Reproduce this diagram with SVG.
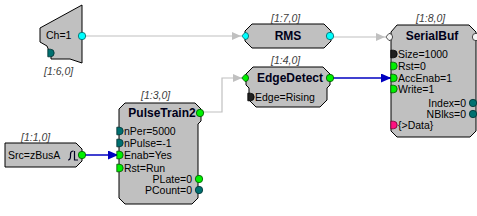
<svg xmlns="http://www.w3.org/2000/svg" xmlns:xlink="http://www.w3.org/1999/xlink" width="477" height="216" viewBox="0 0 477 216">
<style>
.blk{fill:#c0c0c0;stroke:#000;stroke-width:1}
.title{font-family:"Liberation Sans",Arial,sans-serif;font-weight:bold;font-size:12px;fill:#00001a;text-anchor:middle}
.prm{font-family:"Liberation Sans",Arial,sans-serif;font-size:10.5px;fill:#000}
.prmR{font-family:"Liberation Sans",Arial,sans-serif;font-size:10.5px;fill:#000;text-anchor:end}
.lbl{font-family:"Liberation Sans",Arial,sans-serif;font-style:italic;font-size:10.5px;fill:#404040}
.green{fill:#00f000;stroke:#005000;stroke-width:0.8}
.teal{fill:#007070;stroke:#003030;stroke-width:0.8}
.cyan{fill:#00ffff;stroke:#006060;stroke-width:0.8}
.black{fill:#202020;stroke:#000;stroke-width:0.8}
.mag{fill:#ff1080;stroke:#700030;stroke-width:0.8}
.white{fill:#f4f4f4;stroke:#202020;stroke-width:0.8}
.gray{fill:none;stroke:#c0c0c0;stroke-width:1.2}
.blue{fill:none;stroke:#0000c0;stroke-width:1.3}
</style>
<defs>
<path id="pinIn" d="M-3.2,-3.8 h2.6 a3.8,3.8 0 0 1 0,7.6 h-2.6 z"/>
<circle id="pinOut" r="3.7"/>
<path id="pinDia" d="M-4.2,0 L-1,-3.6 A3.6,3.6 0 1 1 -1,3.6 Z"/>
<marker id="arrG" markerUnits="userSpaceOnUse" markerWidth="10" markerHeight="8" refX="9" refY="4" orient="auto">
<path d="M0,0 L9,4 L0,8 z" fill="#c0c0c0"/>
</marker>
<marker id="arrB" markerUnits="userSpaceOnUse" markerWidth="11" markerHeight="9" refX="10" refY="4.5" orient="auto">
<path d="M0,0 L8,3.5 L10,3.5 L10,5.5 L8,5.5 L0,9 z" fill="#0000c0"/>
</marker>
</defs>

<g id="connectors">
<path class="gray" d="M85,36 H241" marker-end="url(#arrG)"/>
<path class="gray" d="M333,37 H385" marker-end="url(#arrG)"/>
<path class="gray" d="M203,112 H222 V78 H242" marker-end="url(#arrG)"/>
<path class="blue" d="M333,78 H391" marker-end="url(#arrB)"/>
<path class="blue" d="M85,155 H118" marker-end="url(#arrB)"/>
</g>

<g id="adc">
<path class="blk" d="M82,5 L82,63 L70,59 L51,59 L51,56 L47,46 L40,42 L40,28 Z"/>
<text class="prm" x="46" y="39">Ch=1</text>
<use xlink:href="#pinIn" x="51" y="53" class="teal"/>
<use xlink:href="#pinOut" x="82" y="36" class="cyan"/>
<text class="lbl" x="44" y="75">[1:6,0]</text>
</g>

<g id="rms">
<polygon class="blk" points="252,24 324,24 331,31 331,41 324,48 252,48 245,41 245,31"/>
<text class="title" x="288" y="40">RMS</text>
<use xlink:href="#pinDia" x="246" y="36" class="cyan"/>
<use xlink:href="#pinOut" x="330" y="36" class="cyan"/>
<text class="lbl" x="271" y="22">[1:7,0]</text>
</g>

<g id="edgedetect">
<polygon class="blk" points="253,67 323,67 330,74 330,85 327,88 327,100 320,107 256,107 249,100 249,88 246,85 246,74"/>
<text class="title" x="290" y="82">EdgeDetect</text>
<use xlink:href="#pinDia" x="246" y="78" class="green"/>
<use xlink:href="#pinOut" x="330" y="78" class="green"/>
<use xlink:href="#pinIn" x="251" y="97" class="black"/>
<text class="prm" x="255" y="101">Edge=Rising</text>
<text class="lbl" x="271" y="64">[1:4,0]</text>
</g>

<g id="serialbuf">
<polygon class="blk" points="397,25 469,25 476,32 476,131 470,137 397,137 391,131 391,32"/>
<text class="title" x="432" y="40">SerialBuf</text>
<use xlink:href="#pinDia" x="390" y="37" class="white"/>
<use xlink:href="#pinOut" x="476" y="37" class="white"/>
<use xlink:href="#pinIn" x="394" y="54" class="black"/>
<use xlink:href="#pinIn" x="394" y="66" class="green"/>
<use xlink:href="#pinIn" x="394" y="78" class="green"/>
<use xlink:href="#pinIn" x="394" y="89" class="green"/>
<use xlink:href="#pinIn" x="394" y="125" class="mag"/>
<use xlink:href="#pinOut" x="473" y="103" class="teal"/>
<use xlink:href="#pinOut" x="473" y="114" class="teal"/>
<text class="prm" x="398" y="58">Size=1000</text>
<text class="prm" x="398" y="70">Rst=0</text>
<text class="prm" x="398" y="82">AccEnab=1</text>
<text class="prm" x="398" y="93">Write=1</text>
<text class="prmR" x="466" y="107">Index=0</text>
<text class="prmR" x="466" y="118">NBlks=0</text>
<text class="prm" x="398" y="129">{&gt;Data}</text>
<text class="lbl" x="416" y="22">[1:8,0]</text>
</g>

<g id="pulsetrain2">
<polygon class="blk" points="125,103 195,103 201,109 201,121 198,124 198,198 192,204 125,204 119,198 119,109"/>
<text class="title" x="162" y="117">PulseTrain2</text>
<use xlink:href="#pinOut" x="200" y="113" class="green"/>
<use xlink:href="#pinIn" x="120" y="131" class="teal"/>
<use xlink:href="#pinIn" x="120" y="143" class="teal"/>
<use xlink:href="#pinIn" x="120" y="155" class="green"/>
<use xlink:href="#pinIn" x="120" y="168" class="green"/>
<use xlink:href="#pinOut" x="199" y="179" class="green"/>
<use xlink:href="#pinOut" x="199" y="190" class="teal"/>
<text class="prm" x="124" y="135">nPer=5000</text>
<text class="prm" x="124" y="147">nPulse=-1</text>
<text class="prm" x="124" y="159">Enab=Yes</text>
<text class="prm" x="124" y="172">Rst=Run</text>
<text class="prmR" x="192" y="183">PLate=0</text>
<text class="prmR" x="192" y="194">PCount=0</text>
<text class="lbl" x="141" y="99">[1:3,0]</text>
</g>

<g id="src">
<polygon class="blk" points="5,143 76,143 82,149 82,161 76,167 5,167"/>
<text class="prm" x="8" y="159">Src=zBusA</text>
<path d="M68,160 q2.5,0 2.5,-4 v-2 q0,-3 3,-3 M74.5,151 v9 h3.5" fill="none" stroke="#000020" stroke-width="1.2"/>
<use xlink:href="#pinOut" x="82" y="155" class="green"/>
<text class="lbl" x="21" y="141">[1:1,0]</text>
</g>
</svg>
